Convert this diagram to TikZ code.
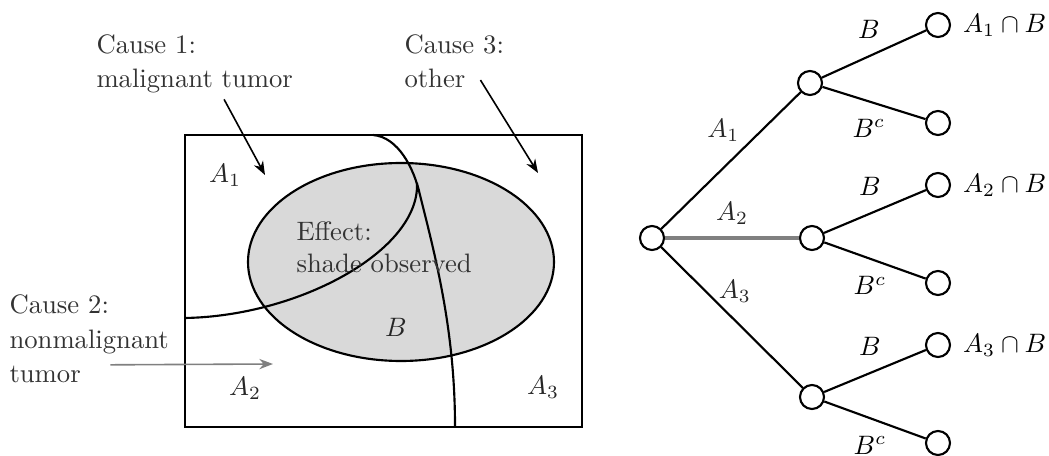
\documentclass[tikz,border=0pt]{standalone}
\usepackage{amsmath,amssymb}
\usepackage{tikz}
\usetikzlibrary{positioning,arrows.meta,calc,shapes.geometric}

\begin{document}
\begin{tikzpicture}[
		x=0.375pt, y=-0.375pt,
		txt/.style={inner sep=0pt, align=left, text=black!80},
		lbl/.style={text=black!85},
		bound/.style={thick},
		arr/.style={-{Stealth[length=1.8mm]}, semithick},
		state/.style={draw, circle, thick, inner sep=0pt, minimum size=9pt},
		branch/.style={thick}
		]
		\useasboundingbox (0,0) rectangle (1049,456);
		% sample space with the effect B
		\node[draw, thick, inner sep=0pt, minimum width=148.9pt, minimum height=109.5pt]
		(space) at (383.5,281) {};
		\node[ellipse, draw, thick, fill=gray!30, inner sep=0pt,
				minimum width=114.75pt, minimum height=74.25pt] (effect) at (401,262) {};
		% partition A1 / A2 / A3
		\draw[bound] (185,318) .. controls (300,316) and (420,250) .. (417,183);
		\draw[bound] (373,135) .. controls (398,137) and (414,168) .. (420,195)
		.. controls (435,255) and (455,330) .. (455,426);
		% labels inside
		\node[txt, anchor=north west] (efftxt) at (296,221) {Effect:\\shade observed};
		\node[lbl] (la1) at (225,175) {$A_1$};
		\node[lbl] (la2) at (245,388) {$A_2$};
		\node[lbl] (la3) at (543,387) {$A_3$};
		\node[lbl] (lb) at (396,327) {$B$};
		% causes
		\node[txt, anchor=north west] (cause1) at (96,34) {Cause 1:\\[1pt]malignant tumor};
		\node[txt, anchor=north west] (cause3) at (404,34) {Cause 3:\\[1pt]other};
		\node[txt, anchor=north west] (cause2) at (9,294) {Cause 2:\\[1pt]nonmalignant\\[1pt]tumor};
		\coordinate (tip1) at (265,175);
		\coordinate (tip2) at (273,364);
		\coordinate (tip3) at (538,173);
		\draw[arr] ([xshift=11pt,yshift=-2pt]cause1.south) -- (tip1);
		\draw[arr] ([xshift=-9pt,yshift=-7pt]cause3.east) -- (tip3);
		\draw[arr, gray] ([xshift=38pt,yshift=7pt]cause2.south west) -- (tip2);
		% tree diagram
		\node[state] (root) at (652,238) {};
		\node[state] (m1) at (810,83) {};
		\node[state] (m2) at (812,238) {};
		\node[state] (m3) at (812,397) {};
		\node[state] (l1) at (938,25) {};
		\node[state] (l2) at (938,123) {};
		\node[state] (l3) at (938,185) {};
		\node[state] (l4) at (938,283) {};
		\node[state] (l5) at (938,345) {};
		\node[state] (l6) at (938,443) {};
		\node[right=1pt of l1] (l1lab) {$A_1\cap B$};
		\node[right=1pt of l3] (l3lab) {$A_2\cap B$};
		\node[right=1pt of l5] (l5lab) {$A_3\cap B$};
		% first stage
		\draw[branch] (root) -- (m1) node[lbl, pos=0.6, above left=2.4pt, inner sep=0pt] (ea1) {$A_1$};
		\draw[branch, gray, line width=1.2pt] (root) -- (m2) node[lbl, midway, above=1pt] (ea2) {$A_2$};
		\draw[branch] (root) -- (m3) node[lbl, pos=0.4, above right, inner sep=0pt] (ea3) {$A_3$};
		% second stage
		\draw[branch] (m1) -- (l1) node[pos=0.45, above=3pt] (eb1) {$B$};
		\draw[branch] (m1) -- (l2) node[pos=0.45, below=3pt] (ec1) {$B^c$};
		\draw[branch] (m2) -- (l3) node[pos=0.45, above=3pt] (eb2) {$B$};
		\draw[branch] (m2) -- (l4) node[pos=0.45, below=3pt] (ec2) {$B^c$};
		\draw[branch] (m3) -- (l5) node[pos=0.45, above=3pt] (eb3) {$B$};
		\draw[branch] (m3) -- (l6) node[pos=0.45, below=3pt] (ec3) {$B^c$};
	\end{tikzpicture}
\end{document}
